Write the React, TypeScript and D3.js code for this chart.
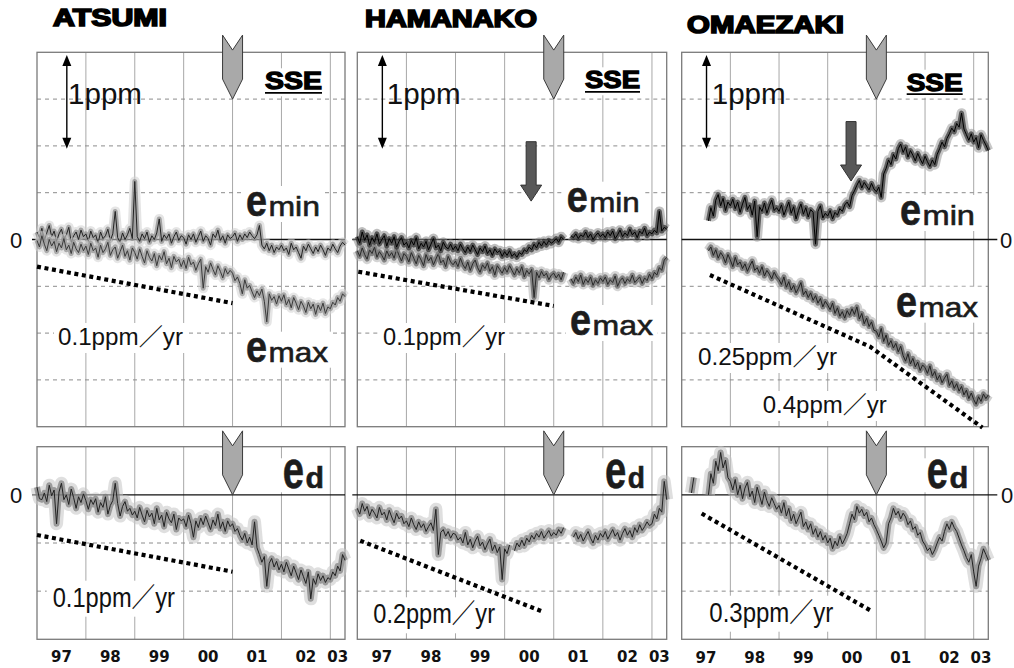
import React from 'react';
import * as d3 from 'd3';

// ---------------- data ----------------
const STATIONS = ['ATSUMI', 'HAMANAKO', 'OMAEZAKI'];
const X_DOMAIN: [number, number] = [1997, 2003.3];
const YEAR_GRID = [1998, 1999, 2000, 2001, 2002, 2003];
const YEAR_LABELS = ['97', '98', '99', '00', '01', '02', '03'];
const YEAR_LABEL_AT = [1997.5, 1998.5, 1999.5, 2000.5, 2001.5, 2002.5, 2003.15];
const TOP_DOMAIN: [number, number] = [-2, 2];
const TOP_GRID = [1.5, 1, 0.5, -0.5, -1, -1.5];
const BOT_DOMAIN: [number, number] = [-1.5, 0.5];
const BOT_GRID = [-0.5, -1];
const STEP = 0.05;
const SSE_YEAR = 2001.0;
const SSE_TIP_TOP = 1.5;
const SSE_TIP_BOT = 0;
const SCALE_BAR_PPM = [1.97, 0.97];
const SCALE_BAR_YEAR = [1997.61, 1997.51, 1997.51];

// ATSUMI
const A_MIN_START = 1997.0;
const A_MIN = [
  0.08, 0.02, 0.12, -0.01, 0.07, 0.15, 0.03, 0.09, -0.02, 0.06, 0.11, 0.01, 0.05, 0.13, -0.03, 0.04, 0.08, 0.0, 0.1, 0.03,
  0.06, -0.02, 0.09, 0.02, 0.05, -0.04, 0.08, 0.01, 0.04, 0.11, -0.01, 0.06, 0.3, 0.02, -0.03, 0.07, 0.0, 0.05, 0.12, 0.01,
  0.62, 0.03, -0.02, 0.06, 0.01, 0.08, -0.03, 0.04, 0.0, 0.07, 0.22, -0.02, 0.05, 0.01, 0.06, -0.04, 0.03, 0.08, -0.01, 0.04,
  0.02, -0.05, 0.05, 0.0, 0.06, -0.03, 0.03, 0.09, -0.02, 0.04, 0.01, -0.06, 0.06, 0.02, 0.1, -0.01, 0.04, -0.04, 0.05, 0.01,
  0.03, 0.07, -0.02, 0.05, 0.0, 0.06, 0.02, 0.08, 0.04, 0.01, 0.05, 0.15, -0.06, -0.1, -0.04, -0.12, -0.06, -0.14, -0.08, -0.11,
  -0.06, -0.12, -0.09, -0.16, -0.04, -0.11, -0.08, -0.14, -0.2, -0.07, -0.12, -0.05, -0.1, -0.15, -0.08, -0.13, -0.06, -0.11, -0.17, -0.09,
  -0.12, -0.05, -0.1, -0.14, -0.07, -0.03, -0.06,
];
const A_MAX_START = 1997.0;
const A_MAX = [
  -0.01, -0.08, 0.04, -0.05, -0.12, 0.0, -0.07, -0.02, -0.13, -0.04, -0.09, 0.01, -0.11, -0.06, -0.15, -0.03, -0.1, -0.14, -0.05, -0.12,
  -0.07, -0.16, -0.04, -0.12, -0.09, -0.19, -0.06, -0.14, -0.1, -0.03, -0.17, -0.11, -0.08, -0.2, -0.13, -0.06, -0.18, -0.12, -0.22, -0.09,
  -0.14, -0.21, -0.1, -0.18, -0.25, -0.12, -0.19, -0.23, -0.15, -0.28, -0.17, -0.22, -0.13, -0.26, -0.2, -0.3, -0.18, -0.24, -0.21, -0.29,
  -0.22, -0.31, -0.19, -0.27, -0.24, -0.33, -0.26, -0.21, -0.52, -0.29, -0.35, -0.25, -0.32, -0.38, -0.28, -0.34, -0.41, -0.31, -0.37, -0.33,
  -0.36, -0.44, -0.4, -0.47, -0.58, -0.43, -0.52, -0.49, -0.56, -0.62, -0.55, -0.6, -0.53, -0.66, -0.88, -0.58, -0.65, -0.61, -0.69, -0.6,
  -0.66, -0.59, -0.7, -0.64, -0.73, -0.62, -0.68, -0.75, -0.66, -0.71, -0.78, -0.67, -0.74, -0.69, -0.8, -0.7, -0.76, -0.68, -0.79, -0.72,
  -0.74, -0.67, -0.7, -0.62, -0.66, -0.58, -0.61,
];
const A_D_START = 1997.0;
const A_D = [
  0.08, -0.04, -0.05, 0.02, -0.07, 0.1, -0.01, 0.05, -0.3, 0.03, 0.12, -0.05, 0.0, -0.1, 0.06, -0.03, -0.14, -0.02, -0.08, 0.01,
  -0.06, -0.15, -0.05, -0.1, -0.04, -0.18, -0.08, -0.13, -0.02, -0.2, -0.11, -0.06, 0.12, -0.09, -0.22, -0.12, -0.07, -0.17, -0.14, -0.21,
  -0.17, -0.24, -0.13, -0.21, -0.28, -0.16, -0.23, -0.19, -0.3, -0.14, -0.26, -0.21, -0.33, -0.18, -0.25, -0.29, -0.2, -0.36, -0.24, -0.27,
  -0.25, -0.33, -0.21, -0.3, -0.44, -0.27, -0.34, -0.24, -0.31, -0.22, -0.29, -0.36, -0.26, -0.32, -0.2, -0.35, -0.28, -0.38, -0.27, -0.33,
  -0.3, -0.38, -0.35, -0.42, -0.47, -0.4, -0.5, -0.44, -0.52, -0.28, -0.55, -0.62, -0.7, -0.64, -0.95, -0.71, -0.66, -0.75, -0.69, -0.78,
  -0.72, -0.8, -0.7, -0.77, -0.84, -0.74, -0.81, -0.88, -0.78, -0.85, -0.92, -0.8, -1.08, -0.87, -0.93, -0.82, -0.89, -0.84, -0.91, -0.86,
  -0.88, -0.8, -0.84, -0.74, -0.79, -0.62, -0.68,
];

// HAMANAKO
const H_MIN_START = 1997.0;
const H_MIN = [
  0.03, -0.04, 0.08, -0.01, 0.05, -0.06, 0.02, -0.03, 0.06, -0.05, 0.0, 0.04, -0.07, 0.01, -0.04, 0.03, -0.08, -0.02, 0.02, -0.06,
  -0.03, -0.09, -0.01, -0.06, 0.02, -0.1, -0.04, -0.08, -0.02, -0.11, -0.05, 0.01, -0.09, -0.06, -0.12, -0.03, -0.08, -0.1, -0.05, -0.11,
  -0.07, -0.12, -0.05, -0.1, -0.14, -0.08, -0.13, -0.06, -0.11, -0.16, -0.09, -0.13, -0.07, -0.15, -0.11, -0.17, -0.1, -0.14, -0.12, -0.18,
  -0.13, -0.17, -0.12, -0.18, -0.15, -0.19, -0.14, -0.16, -0.11, -0.13, -0.08, -0.11, -0.05, -0.09, -0.03, -0.07, -0.02, -0.06, -0.01, -0.04,
  -0.02, 0.01, -0.03, 0.03, 0.0, null, null, 0.04, 0.02, 0.06, 0.01, 0.05, 0.03, 0.08, 0.02, 0.06, 0.0, 0.04, 0.07, 0.03,
  0.06, 0.02, 0.08, 0.04, 0.09, 0.01, 0.05, 0.1, 0.03, 0.07, 0.04, 0.11, 0.05, 0.08, 0.02, 0.09, 0.06, 0.12, 0.04, 0.08,
  0.06, 0.1, 0.07, 0.3, 0.09, 0.13, 0.11,
];
const H_MAX_START = 1997.0;
const H_MAX = [
  -0.12, -0.18, -0.09, -0.16, -0.21, -0.11, -0.15, -0.08, -0.19, -0.13, -0.17, -0.22, -0.12, -0.18, -0.14, -0.2, -0.1, -0.17, -0.23, -0.15,
  -0.18, -0.24, -0.14, -0.2, -0.26, -0.17, -0.22, -0.28, -0.16, -0.23, -0.19, -0.27, -0.21, -0.15, -0.25, -0.22, -0.29, -0.18, -0.24, -0.27,
  -0.23, -0.29, -0.2, -0.27, -0.31, -0.24, -0.33, -0.26, -0.22, -0.3, -0.35, -0.27, -0.31, -0.25, -0.34, -0.29, -0.38, -0.28, -0.32, -0.36,
  -0.3, -0.35, -0.28, -0.33, -0.38, -0.31, -0.36, -0.29, -0.4, -0.33, -0.37, -0.32, -0.62, -0.35, -0.41, -0.34, -0.39, -0.36, -0.43, -0.38,
  -0.36, -0.41, -0.37, -0.43, -0.35, null, null, -0.42, -0.47, -0.4, -0.45, -0.38, -0.48, -0.42, -0.46, -0.4, -0.49, -0.43, -0.47, -0.41,
  -0.45, -0.4, -0.48, -0.43, -0.46, -0.39, -0.5, -0.44, -0.41, -0.47, -0.42, -0.45, -0.38, -0.46, -0.43, -0.4, -0.47, -0.41, -0.44, -0.37,
  -0.42, -0.35, -0.38, -0.3, -0.33, -0.22, -0.19,
];
const H_D_START = 1997.0;
const H_D = [
  -0.14, -0.2, -0.09, -0.17, -0.12, -0.22, -0.15, -0.19, -0.24, -0.13, -0.21, -0.18, -0.26, -0.16, -0.23, -0.29, -0.19, -0.25, -0.22, -0.3,
  -0.27, -0.33, -0.24, -0.31, -0.36, -0.28, -0.34, -0.3, -0.38, -0.33, -0.29, -0.37, -0.15, -0.62, -0.39, -0.36, -0.43, -0.38, -0.45, -0.4,
  -0.41, -0.47, -0.44, -0.5, -0.39, -0.52, -0.46, -0.55, -0.48, -0.43, -0.53, -0.49, -0.57, -0.51, -0.46, -0.58, -0.52, -0.6, -0.54, -0.88,
  -0.56, -0.61, -0.52, null, -0.58, -0.5, -0.54, -0.47, -0.53, -0.45, -0.49, -0.42, -0.46, -0.4, -0.44, -0.38, -0.45, -0.41, -0.37, -0.43,
  -0.39, -0.42, -0.36, -0.4, -0.34, null, -0.15, null, -0.44, -0.39, -0.46, -0.41, -0.48, -0.43, -0.38, -0.45, -0.5, -0.42, -0.47, -0.4,
  -0.44, -0.38, -0.46, -0.41, -0.36, -0.43, -0.39, -0.47, -0.4, -0.35, -0.42, -0.37, -0.44, -0.34, -0.39, -0.31, -0.37, -0.33, -0.28, -0.32,
  -0.3, -0.2, -0.25, -0.14, -0.18, 0.14, -0.05,
];

// OMAEZAKI
const O_MIN_START = 1997.55;
const O_MIN = [
  0.2, 0.34, 0.25, 0.42, 0.48, 0.36, 0.44, 0.31, 0.4,
  0.36, 0.43, 0.33, 0.4, 0.29, 0.38, 0.45, 0.32, 0.37, 0.26, 0.41, 0.03, 0.35, 0.3, 0.39, 0.28, 0.36, 0.42, 0.31, 0.34,
  0.3, 0.37, 0.26, 0.33, 0.4, 0.28, 0.35, 0.22, 0.31, 0.38, 0.27, 0.34, 0.24, 0.32, 0.29, -0.05, 0.3, 0.36, 0.23, 0.28,
  0.25, 0.31, 0.22, 0.29, 0.26, 0.33, 0.3, 0.37, 0.4, 0.35, 0.47, 0.52, 0.58, 0.63, 0.55, 0.61, 0.57, 0.53, 0.6, 0.54,
  0.51, 0.56, 0.45, 0.7, 0.76, 0.85, 0.8, 0.91, 0.86, 0.97, 1.02, 0.93, 0.99, 0.88, 0.95, 0.9, 0.84, 0.92, 0.86, 0.81,
  0.89, 0.83, 0.78, 0.85, 0.8, 0.91, 0.97, 1.04, 0.99, 1.08, 1.13, 1.19, 1.15, 1.24, 1.2, 1.35, 1.18, 1.12, 1.06, 1.13,
  1.04, 1.09, 0.98, 1.12, 1.06, 1.01, 0.95,
];
const O_MAX_START = 1997.55;
const O_MAX = [
  -0.12, -0.08, -0.17, -0.11, -0.2, -0.14, -0.18, -0.25, -0.16,
  -0.22, -0.29, -0.19, -0.27, -0.24, -0.31, -0.26, -0.34, -0.28, -0.23, -0.33, -0.3, -0.36, -0.29, -0.39, -0.33, -0.37, -0.42, -0.35, -0.4,
  -0.43, -0.48, -0.4, -0.51, -0.45, -0.54, -0.49, -0.57, -0.52, -0.46, -0.59, -0.55, -0.62, -0.57, -0.65, -0.6, -0.68, -0.63, -0.72, -0.66,
  -0.7, -0.75, -0.68, -0.79, -0.73, -0.82, -0.77, -0.84, -0.76, -0.81, -0.74, -0.8, -0.72, -0.85, -0.79, -0.9, -0.84, -0.93, -0.88, -0.97,
  -0.98, -1.04, -0.95, -1.09, -1.02, -1.13, -1.08, -1.16, -1.11, -1.2, -1.14, -1.24, -1.3, -1.22, -1.33, -1.27, -1.36, -1.31, -1.4, -1.34,
  -1.37, -1.43, -1.35, -1.46, -1.41, -1.5, -1.45, -1.53, -1.48, -1.44, -1.56, -1.51, -1.59, -1.54, -1.62, -1.57, -1.66, -1.61, -1.7, -1.64,
  -1.71, -1.76, -1.68, -1.73, -1.65, -1.7, -1.66,
];
const O_D_START = 1997.2;
const O_D = [
  0.02, 0.18, null, null, null, null, null, 0.0, 0.22, 0.12, 0.35, 0.25, 0.44, 0.28, 0.36, 0.18,
  0.14, 0.05, 0.16, 0.0, 0.1, -0.04, 0.07, 0.13, -0.02, 0.04, -0.08, 0.08, -0.01, -0.1, 0.03, -0.06, -0.12, -0.03, -0.09, -0.15,
  -0.11, -0.19, -0.08, -0.22, -0.14, -0.27, -0.2, -0.3, -0.24, -0.18, -0.33, -0.28, -0.36, -0.3, -0.41, -0.35, -0.44, -0.38, -0.47, -0.42,
  -0.5, -0.45, -0.56, -0.48, -0.53, -0.43, -0.51, -0.46, -0.4, -0.3, -0.2, -0.26, -0.12, -0.19, -0.15, -0.22, -0.18, -0.28, -0.24, -0.31,
  -0.36, -0.42, -0.48, -0.55, -0.5, -0.3, -0.24, -0.14, -0.21, -0.17, -0.25, -0.19, -0.23, -0.31, -0.27, -0.36, -0.33, -0.42, -0.39, -0.48,
  -0.52, -0.58, -0.55, -0.62, -0.57, -0.5, -0.44, -0.48, -0.38, -0.3, -0.36, -0.28, -0.34, -0.38, -0.45, -0.52, -0.58, -0.65, -0.7, -0.62,
  -0.8, -0.95, -0.74, -0.66, -0.56, -0.62, -0.68,
];

// dotted trend lines [year, ppm]
const A_TREND = [[1997.0, -0.29], [2001.0, -0.68]];
const H_TREND = [[1997.02, -0.344], [2001.0, -0.71]];
const O_TREND = [[1997.58, -0.379], [2000.87, -1.145], [2003.18, -2.01]];
const A_D_TREND = [[1997.0, -0.417], [2001.0, -0.798]];
const H_D_TREND = [[1997.06, -0.476], [2000.76, -1.21]];
const O_D_TREND = [[1997.41, -0.194], [2000.91, -1.21]];

// onset arrows (year, top ppm, tip ppm)
const ONSET_YEAR = [null, 2000.54, 2000.48];
const ONSET_TOP = [null, 1.045, 1.26];
const ONSET_TIP = [null, 0.41, 0.625];

const RATE_TOP = [['0.1ppm／yr'], ['0.1ppm／yr'], ['0.25ppm／yr', '0.4ppm／yr']];
const RATE_BOT = ['0.1ppm／yr', '0.2ppm／yr', '0.3ppm／yr'];

// ---------------- layout ----------------
const FONT = "'Liberation Sans', Arial, 'Noto Sans CJK JP', sans-serif";
const PANEL_X: [number, number][] = [[37, 345], [357.3, 666.7], [681.7, 988.3]];
const TOP_Y: [number, number] = [426.7, 52.3];
const BOT_Y: [number, number] = [639.3, 446.7];
const TITLE_POS = [{ x: 53, y: 26, w: 114 }, { x: 365, y: 27, w: 172 }, { x: 687, y: 33, w: 157 }];
const EMIN_POS = [{ dx: 209, y: 216, w: 74 }, { dx: 209.4, y: 211.7, w: 73 }, { dx: 218.3, y: 225, w: 75 }];
const EMAX_POS = [{ dx: 209, y: 361.7, w: 82 }, { dx: 212.7, y: 335, w: 83 }, { dx: 214.3, y: 316.7, w: 82 }];
const ED_POS = [{ dx: 245.7, y: 488.3, w: 41.3 }, { dx: 247.7, y: 488.3, w: 40 }, { dx: 245, y: 488.3, w: 41.6 }];
const SSE_POS = [{ dx: 228, y: 89.3, w: 57 }, { dx: 227.7, y: 88.3, w: 55 }, { dx: 225, y: 90.7, w: 56 }];
const PPM_DX = [31, 29.4, 30];
const RATE_TOP_POS = [
  [{ dx: 21, y: 345, w: 125 }],
  [{ dx: 25.7, y: 345, w: 122 }],
  [{ dx: 16.3, y: 365, w: 139 }, { dx: 81, y: 413, w: 124 }],
];
const RATE_BOT_POS = [{ dx: 15.7, y: 606.7, w: 122.3 }, { dx: 16, y: 623.3, w: 121.7 }, { dx: 27.6, y: 621.7, w: 124 }];

type Pt = { t: number; v: number | null };
const toPts = (start: number, vals: (number | null)[]): Pt[] => vals.map((v, i) => ({ t: start + i * STEP, v }));

// band look: wide pale fuzz, narrower mid band, dark trace
const SERIES_TOP = [
  [
    { pts: toPts(A_MIN_START, A_MIN), color: '#222', mid: '#8a8a8a', fuzz: '#cfcfcf' },
    { pts: toPts(A_MAX_START, A_MAX), color: '#3a3a3a', mid: '#8f8f8f', fuzz: '#d2d2d2' },
  ],
  [
    { pts: toPts(H_MAX_START, H_MAX), color: '#2a2a2a', mid: '#606060', fuzz: '#b0b0b0' },
    { pts: toPts(H_MIN_START, H_MIN), color: '#000', mid: '#2a2a2a', fuzz: '#8a8a8a' },
  ],
  [
    { pts: toPts(O_MIN_START, O_MIN), color: '#000', mid: '#333', fuzz: '#999' },
    { pts: toPts(O_MAX_START, O_MAX), color: '#222', mid: '#5a5a5a', fuzz: '#aaa' },
  ],
];
const SERIES_BOT = [toPts(A_D_START, A_D), toPts(H_D_START, H_D), toPts(O_D_START, O_D)];
const TRENDS_TOP = [A_TREND, H_TREND, O_TREND];
const TRENDS_BOT = [A_D_TREND, H_D_TREND, O_D_TREND];

function sseArrow(x: number, tip: number) {
  const h = 64, w = 10, notch = 15, sh = 20, top = tip - h;
  return `M${x - w},${top}L${x},${top + notch}L${x + w},${top}L${x + w},${tip - sh}L${x},${tip}L${x - w},${tip - sh}Z`;
}
function onsetArrow(x: number, top: number, tip: number) {
  const s = 5, hw = 10.5, hh = 16;
  return `M${x - s},${top}L${x + s},${top}L${x + s},${tip - hh}L${x + hw},${tip - hh}L${x},${tip}L${x - hw},${tip - hh}L${x - s},${tip - hh}Z`;
}

function ELabel({ x, y, w, ew, sub, eSize, subSize, subBold }: any) {
  const eScale = ew / (eSize * 0.556);
  return (
    <g>
      <text transform={`translate(${x},${y}) scale(${eScale},1)`} fontSize={eSize} fontWeight="bold" fontFamily={FONT}
        fill="#1c1c1c" stroke="#1c1c1c" strokeWidth={0.6}>e</text>
      <text x={x + ew + 1.5} y={y} fontSize={subSize} fontWeight={subBold ? 'bold' : 'normal'} fontFamily={FONT} fill="#1c1c1c"
        stroke="#1c1c1c" strokeWidth={0.6} textLength={w - ew - 1.5} lengthAdjust="spacingAndGlyphs">{sub}</text>
    </g>
  );
}

function Panel({ i }: { i: number }) {
  const [x0, x1] = PANEL_X[i];
  const xs = d3.scaleLinear().domain(X_DOMAIN).range(PANEL_X[i]);
  const yt = d3.scaleLinear().domain(TOP_DOMAIN).range(TOP_Y);
  const yb = d3.scaleLinear().domain(BOT_DOMAIN).range(BOT_Y);
  const lineT = d3.line<Pt>().defined((d) => d.v != null).x((d) => xs(d.t)).y((d) => yt(d.v as number));
  const lineB = d3.line<Pt>().defined((d) => d.v != null).x((d) => xs(d.t)).y((d) => yb(d.v as number));
  const trendT = d3.line<number[]>().x((d) => xs(d[0])).y((d) => yt(d[1]));
  const trendB = d3.line<number[]>().x((d) => xs(d[0])).y((d) => yb(d[1]));
  const zeroExtL = i === 2 ? 0 : 5;
  const zeroExtR = i === 2 ? 9 : 0;
  const boxes: { x: number; y: number; w: number; h: number }[] = [];
  boxes.push({ x: x0 + EMIN_POS[i].dx - 4, y: EMIN_POS[i].y - 30, w: EMIN_POS[i].w + 8, h: 36 });
  boxes.push({ x: x0 + EMAX_POS[i].dx - 4, y: EMAX_POS[i].y - 30, w: EMAX_POS[i].w + 8, h: 36 });
  boxes.push({ x: x0 + SSE_POS[i].dx - 3, y: SSE_POS[i].y - 21, w: SSE_POS[i].w + 6, h: 28 });
  boxes.push({ x: x0 + ED_POS[i].dx - 3, y: ED_POS[i].y - 30, w: ED_POS[i].w + 6, h: 34 });
  RATE_TOP_POS[i].forEach((p) => boxes.push({ x: x0 + p.dx - 4, y: p.y - 22, w: p.w + 8, h: 30 }));
  const rb = RATE_BOT_POS[i];
  boxes.push({ x: x0 + rb.dx - 6, y: rb.y - 26, w: rb.w + 12, h: 36 });

  const sx = xs(SSE_YEAR);
  const barX = xs(SCALE_BAR_YEAR[i]);
  const by1 = yt(SCALE_BAR_PPM[0]);
  const by2 = yt(SCALE_BAR_PPM[1]);

  return (
    <g>
      {YEAR_GRID.map((yr) => (
        <g key={yr}>
          <line x1={xs(yr)} x2={xs(yr)} y1={TOP_Y[1]} y2={TOP_Y[0]} stroke="#a8a8a8" strokeWidth={1} />
          <line x1={xs(yr)} x2={xs(yr)} y1={BOT_Y[1]} y2={BOT_Y[0]} stroke="#a8a8a8" strokeWidth={1} />
        </g>
      ))}
      {TOP_GRID.map((v) => (
        <line key={'t' + v} x1={x0} x2={x1} y1={yt(v)} y2={yt(v)} stroke="#8c8c8c" strokeWidth={1} strokeDasharray="4 4" />
      ))}
      {BOT_GRID.map((v) => (
        <line key={'b' + v} x1={x0} x2={x1} y1={yb(v)} y2={yb(v)} stroke="#8c8c8c" strokeWidth={1} strokeDasharray="4 4" />
      ))}
      {boxes.map((b, k) => (
        <rect key={'bx' + k} x={b.x} y={b.y} width={b.w} height={b.h} fill="#fff" />
      ))}
      <rect x={x0} y={TOP_Y[1]} width={x1 - x0} height={TOP_Y[0] - TOP_Y[1]} fill="none" stroke="#7a7a7a" strokeWidth={1.3} />
      <rect x={x0} y={BOT_Y[1]} width={x1 - x0} height={BOT_Y[0] - BOT_Y[1]} fill="none" stroke="#7a7a7a" strokeWidth={1.3} />
      <line x1={x0 - zeroExtL} x2={x1 + zeroExtR} y1={yt(0)} y2={yt(0)} stroke="#111" strokeWidth={1.3} />
      <line x1={x0 - zeroExtL} x2={x1 + zeroExtR} y1={yb(0)} y2={yb(0)} stroke="#111" strokeWidth={1.3} />
      {SERIES_TOP[i].map((s, k) => {
        const d = lineT(s.pts) || '';
        return (
          <g key={'s' + k}>
            <path d={d} fill="none" stroke={s.fuzz} strokeWidth={10} strokeLinejoin="round" opacity={0.55} />
            <path d={d} fill="none" stroke={s.mid} strokeWidth={5} strokeLinejoin="round" opacity={0.7} />
            <path d={d} fill="none" stroke={s.color} strokeWidth={1} />
          </g>
        );
      })}
      <path d={lineB(SERIES_BOT[i]) || ''} fill="none" stroke="#c4c4c4" strokeWidth={13} strokeLinejoin="round" opacity={0.55} />
      <path d={lineB(SERIES_BOT[i]) || ''} fill="none" stroke="#7c7c7c" strokeWidth={6} strokeLinejoin="round" opacity={0.7} />
      <path d={lineB(SERIES_BOT[i]) || ''} fill="none" stroke="#222" strokeWidth={1} />
      <path d={trendT(TRENDS_TOP[i] as number[][]) || ''} fill="none" stroke="#000" strokeWidth={4.2} strokeDasharray="4 3.6" />
      <path d={trendB(TRENDS_BOT[i] as number[][]) || ''} fill="none" stroke="#000" strokeWidth={4.2} strokeDasharray="4 3.6" />
      <text x={TITLE_POS[i].x} y={TITLE_POS[i].y} fontFamily={FONT} fontWeight="bold" fontSize={23} textLength={TITLE_POS[i].w}
        lengthAdjust="spacingAndGlyphs" fill="#000" stroke="#000" strokeWidth={1.6}>{STATIONS[i]}</text>
      <text x={x0 + SSE_POS[i].dx} y={SSE_POS[i].y} fontFamily={FONT} fontWeight="bold" fontSize={24} textLength={SSE_POS[i].w}
        lengthAdjust="spacingAndGlyphs" fill="#000" stroke="#000" strokeWidth={1.3}>SSE</text>
      <line x1={x0 + SSE_POS[i].dx} x2={x0 + SSE_POS[i].dx + SSE_POS[i].w} y1={SSE_POS[i].y + 3.5} y2={SSE_POS[i].y + 3.5} stroke="#000" strokeWidth={1.8} />
      <line x1={barX} x2={barX} y1={by1 + 8} y2={by2 - 8} stroke="#000" strokeWidth={1.4} />
      <path d={`M${barX},${by1}L${barX + 4.5},${by1 + 11}L${barX - 4.5},${by1 + 11}Z`} fill="#000" />
      <path d={`M${barX},${by2}L${barX + 4.5},${by2 - 11}L${barX - 4.5},${by2 - 11}Z`} fill="#000" />
      <text x={x0 + PPM_DX[i]} y={104} fontFamily={FONT} fontSize={29} textLength={74} lengthAdjust="spacingAndGlyphs" fill="#111">1ppm</text>
      <ELabel x={x0 + EMIN_POS[i].dx} y={EMIN_POS[i].y} w={EMIN_POS[i].w} ew={21} sub="min" eSize={44} subSize={28} />
      <ELabel x={x0 + EMAX_POS[i].dx} y={EMAX_POS[i].y} w={EMAX_POS[i].w} ew={21} sub="max" eSize={44} subSize={28} />
      <ELabel x={x0 + ED_POS[i].dx} y={ED_POS[i].y} w={ED_POS[i].w} ew={21.3} sub="d" eSize={54} subSize={30} subBold />
      {RATE_TOP[i].map((t, k) => (
        <text key={'r' + k} x={x0 + RATE_TOP_POS[i][k].dx} y={RATE_TOP_POS[i][k].y} fontFamily={FONT} fontSize={24}
          textLength={RATE_TOP_POS[i][k].w} lengthAdjust="spacingAndGlyphs" fill="#111">{t}</text>
      ))}
      <text x={x0 + rb.dx} y={rb.y} fontFamily={FONT} fontSize={27} textLength={rb.w} lengthAdjust="spacingAndGlyphs" fill="#111">{RATE_BOT[i]}</text>
      {YEAR_LABELS.map((lab, k) => (
        <text key={lab} x={xs(YEAR_LABEL_AT[k])} y={i === 2 ? 663 : 662} textAnchor="middle" fontFamily="'DejaVu Sans', sans-serif"
          fontSize={15} fontWeight="bold" fill="#111">{lab}</text>
      ))}
      <path d={sseArrow(sx, yt(SSE_TIP_TOP))} fill="#a9a9a9" stroke="#3a3a3a" strokeWidth={1} />
      <path d={sseArrow(sx, yb(SSE_TIP_BOT))} fill="#a9a9a9" stroke="#3a3a3a" strokeWidth={1} />
      {ONSET_YEAR[i] != null && (
        <path d={onsetArrow(xs(ONSET_YEAR[i] as number), yt(ONSET_TOP[i] as number), yt(ONSET_TIP[i] as number))}
          fill="#585858" stroke="#333" strokeWidth={1} />
      )}
    </g>
  );
}

export default function App() {
  const yt = d3.scaleLinear().domain(TOP_DOMAIN).range(TOP_Y);
  const yb = d3.scaleLinear().domain(BOT_DOMAIN).range(BOT_Y);
  return (
    <svg width={1014} height={668} style={{ position: 'absolute', left: 0, top: 0, background: '#fff' }}>
      <rect x={0} y={0} width={1014} height={668} fill="#fff" />
      {[0, 1, 2].map((i) => (
        <Panel key={i} i={i} />
      ))}
      <text x={16} y={yt(0) + 8} textAnchor="middle" fontFamily={FONT} fontSize={22} fill="#111">0</text>
      <text x={16} y={yb(0) + 8} textAnchor="middle" fontFamily={FONT} fontSize={22} fill="#111">0</text>
      <text x={1006} y={yt(0) + 8} textAnchor="middle" fontFamily={FONT} fontSize={22} fill="#111">0</text>
      <text x={1007} y={yb(0) + 8} textAnchor="middle" fontFamily={FONT} fontSize={22} fill="#111">0</text>
    </svg>
  );
}
